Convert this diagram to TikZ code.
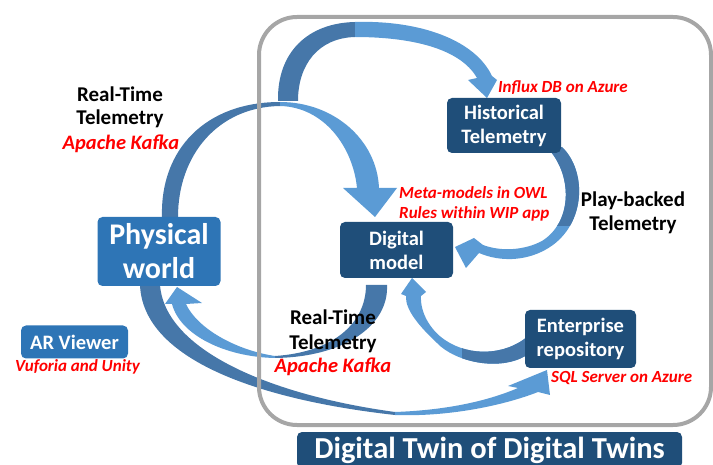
\documentclass[tikz,border=0pt]{standalone}
\usepackage{fontspec}
\setmainfont{Carlito}
\definecolor{dtdark}{RGB}{31,78,121}
\definecolor{dtlight}{RGB}{46,117,182}
\definecolor{arlight}{RGB}{91,155,213}
\definecolor{ardark}{RGB}{70,119,169}
\definecolor{framegray}{RGB}{166,166,166}
\definecolor{notered}{RGB}{255,0,0}
\begin{document}
\begin{tikzpicture}[x=1pt,y=-1pt,
  box/.style={rounded corners=5pt, text=white, align=center, inner sep=0pt},
  darkbox/.style={box, fill=dtdark, font=\bfseries\fontsize{20.5}{24}\selectfont},
  lightbox/.style={box, fill=dtlight},
  note/.style={text=notered, inner sep=0pt, font=\bfseries\itshape\fontsize{17}{20}\selectfont},
  kafka/.style={text=notered, inner sep=0pt, font=\bfseries\itshape\fontsize{20.5}{23}\selectfont},
  lab/.style={text=black, inner sep=0pt, font=\bfseries\fontsize{21}{24}\selectfont},
  frame/.style={draw=framegray, line width=4pt, rounded corners=38pt}]
\useasboundingbox (0,0) rectangle (713,465);

% Physical world -> Digital model (real-time telemetry)
\fill[ardark] (162,217) .. controls (160,150) and (205,102) .. (280,102)
  -- (280,106) .. controls (218,107) and (178,155) .. (178,217) -- cycle;
\fill[arlight] (280,102) .. controls (334,102) and (377,140) .. (379,188)
  -- (397,188) -- (375,217) -- (343,188) -- (357,188)
  .. controls (353,147) and (324,107) .. (280,106) -- cycle;

% branch to historical telemetry
\fill[ardark] (278,101) .. controls (277,52) and (308,23) .. (355,22)
  -- (355,37) .. controls (318,38) and (298,65) .. (298,101) -- cycle;
\fill[arlight] (355,22) .. controls (420,20) and (475,40) .. (492,76)
  -- (497,80) -- (487,98) -- (468,80) -- (477,78)
  .. controls (460,48) and (410,37) .. (355,37) -- cycle;

% Historical telemetry -> Digital model (play-back)
\path[save path=\playback] (562,147) .. controls (588,172) and (586,228) .. (545,250)
  .. controls (525,261) and (500,262) .. (479,253)
  -- (466,268) -- (455,247) -- (474,238) -- (483,245)
  .. controls (502,252) and (525,250) .. (542,241)
  .. controls (572,222) and (572,178) .. (551,152) -- cycle;
\fill[arlight, use path=\playback];
\begin{scope}
  \clip (540,140) rectangle (600,226);
  \fill[ardark, use path=\playback];
\end{scope}

% Digital model -> Physical world (real-time telemetry)
\fill[ardark] (366,285) -- (387,285) .. controls (389,325) and (345,357) .. (275,358)
  -- (275,356) .. controls (335,352) and (366,322) .. (366,285) -- cycle;
\fill[arlight] (275,358) .. controls (225,357) and (180,335) .. (172,304)
  -- (165,304) -- (177,287) -- (202,303) -- (186,304)
  .. controls (197,328) and (235,350) .. (275,356) -- cycle;

% Physical world -> Enterprise repository
\fill[ardark] (140,285) .. controls (143,360) and (260,400) .. (395,415)
  -- (395,412) .. controls (270,395) and (165,350) .. (160,285) -- cycle;
\fill[arlight] (395,415) .. controls (450,417) and (505,405) .. (538,392)
  -- (550,395) -- (547,370) -- (508,386) -- (518,388)
  .. controls (490,400) and (450,410) .. (395,412) -- cycle;

% Enterprise repository -> Digital model
\path[save path=\entpath] (527,355) .. controls (500,372) and (455,362) .. (437,343)
  .. controls (420,327) and (405,310) .. (406,296)
  -- (401,294) -- (412,278) -- (426,292) -- (421,296)
  .. controls (420,312) and (430,330) .. (445,340)
  .. controls (470,357) and (505,355) .. (527,337) -- cycle;
\fill[arlight, use path=\entpath];
\begin{scope}
  \clip (462,320) rectangle (535,380);
  \fill[ardark, use path=\entpath];
\end{scope}

% outer frame of the twin platform, over the flows
\draw[frame] (259,17) rectangle (711,425);

% boxes
\node[lightbox, minimum width=123pt, minimum height=69pt,
      font=\bfseries\fontsize{30}{34}\selectfont] (phys) at (159,251.5) {Physical\\world};
\node[lightbox, minimum width=107pt, minimum height=33pt,
      font=\bfseries\fontsize{20.5}{23}\selectfont] (ar) at (74.5,342) {AR Viewer};
\node[darkbox, minimum width=113pt, minimum height=56pt] (dm) at (396.5,250) {Digital\\model};
\node[darkbox, minimum width=114pt, minimum height=55pt] (hist) at (504,125.5) {Historical\\Telemetry};
\node[darkbox, minimum width=111pt, minimum height=58pt] (ent) at (580.5,339) {Enterprise\\repository};
\node[box, fill=dtdark, minimum width=385pt, minimum height=36pt,
      font=\bfseries\fontsize{30.5}{34}\selectfont] (title) at (489.5,450) {Digital Twin of Digital Twins};

% labels
\node[lab, anchor=base] (rtA1) at (120,102) {Real-Time};
\node[lab, anchor=base] (rtA2) at (120,125) {Telemetry};
\node[kafka, anchor=base] (kfA) at (121,150) {Apache Kafka};
\node[lab, anchor=base] (rtB1) at (333,325) {Real-Time};
\node[lab, anchor=base] (rtB2) at (333,349) {Telemetry};
\node[kafka, anchor=base] (kfB) at (333,373) {Apache Kafka};
\node[lab, anchor=base] (pb1) at (633,207) {Play-backed};
\node[lab, anchor=base] (pb2) at (633,231) {Telemetry};
\node[note, anchor=base west] (influx) at (498,93) {Influx DB on Azure};
\node[note, anchor=base west] (meta1) at (399,199) {Meta-models in OWL};
\node[note, anchor=base west] (meta2) at (399,219) {Rules within WIP app};
\node[note, anchor=base west] (sql) at (551,382) {SQL Server on Azure};
\node[note, anchor=base west] (vuf) at (15,372) {Vuforia and Unity};
\end{tikzpicture}
\end{document}
